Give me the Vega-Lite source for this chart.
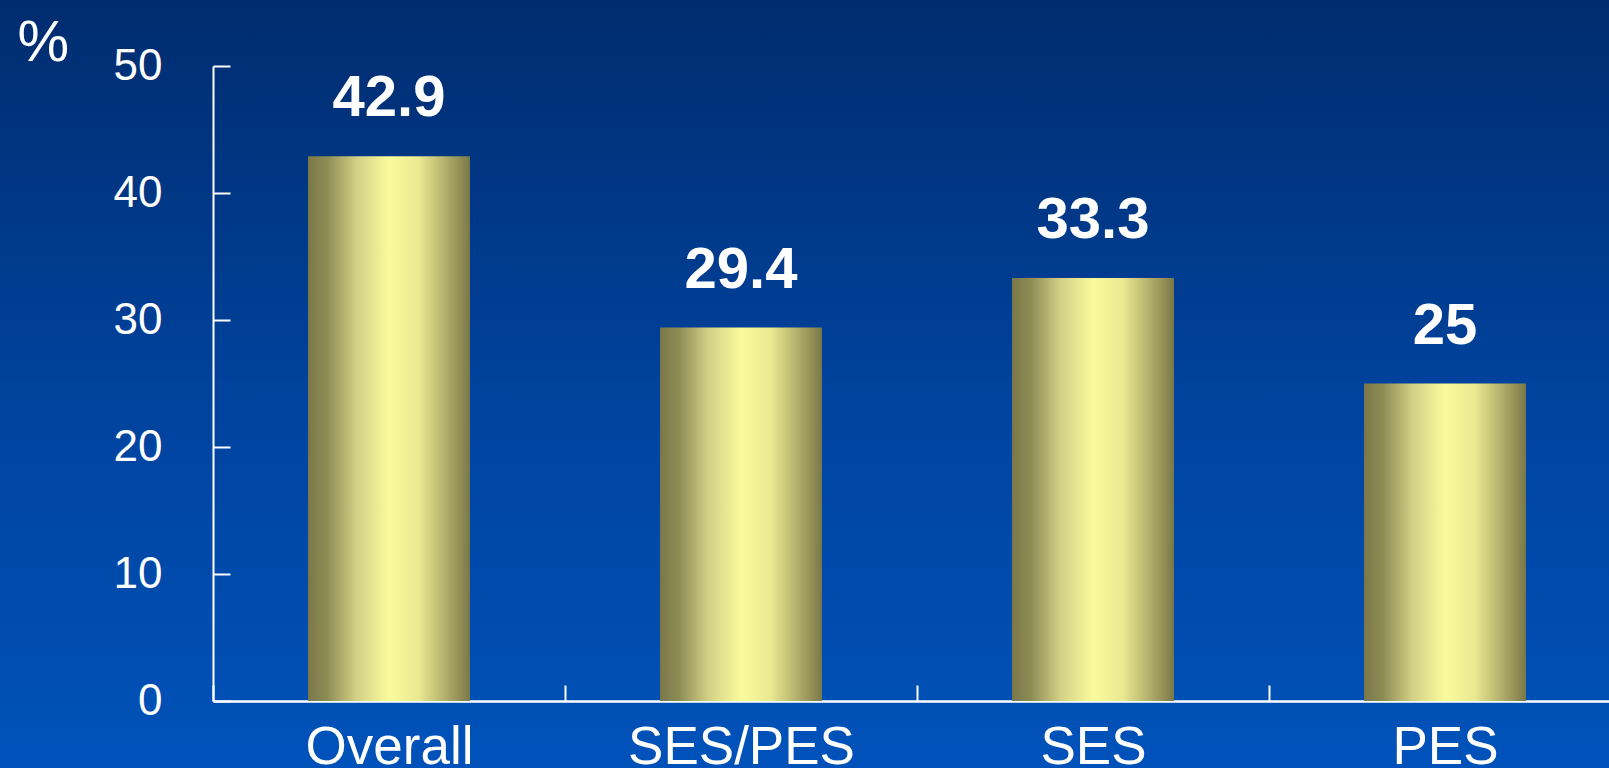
{
  "$schema": "https://vega.github.io/schema/vega-lite/v6.json",
  "width": 1609,
  "height": 768,
  "autosize": {"type": "none"},
  "padding": 0,
  "background": "#003a8a",
  "config": {"view": {"stroke": null, "fill": {"gradient": "linear", "x1": 0, "y1": 0, "x2": 0, "y2": 1, "stops": [{"offset": 0, "color": "#002c6e"}, {"offset": 0.5, "color": "#00429c"}, {"offset": 1, "color": "#0052ba"}]}}, "font": "Liberation Sans"},
  "data": {"values": [
    {"group": "Overall", "pct": 42.9},
    {"group": "SES/PES", "pct": 29.4},
    {"group": "SES", "pct": 33.3},
    {"group": "PES", "pct": 25}
  ]},
  "encoding": {
    "x": {"field": "group", "type": "nominal", "sort": null,
      "scale": {"paddingInner": 0.54, "paddingOuter": 0.27, "range": [213, 1621]},
      "axis": {"title": null, "labelAngle": 0, "labelColor": "white", "labelFontSize": 53, "labelFont": "Liberation Sans", "labelLimit": 0, "offset": -67,
        "domainColor": "white", "domainWidth": 2.5, "tickColor": "white", "tickWidth": 2, "tickSize": -16,
        "bandPosition": 0, "tickOffset": -95, "labelOffset": 95,
        "labelPadding": 36}},
    "y": {"field": "pct", "type": "quantitative", "scale": {"domain": [0, 50], "range": [701, 66]},
      "axis": {"values": [0, 10, 20, 30, 40, 50], "grid": false, "offset": -213, "title": "%", "titleAngle": 0, "titleAlign": "left", "titleBaseline": "alphabetic",
        "titleX": -196, "titleY": 60, "titleFontSize": 58, "titleFontWeight": "normal", "titleColor": "white", "titleFont": "Liberation Sans",
        "labelColor": "white", "labelFontSize": 44, "labelFont": "Liberation Sans", "labelPadding": 68,
        "domainColor": "white", "domainWidth": 2, "tickColor": "white", "tickWidth": 2, "tickSize": -17}}
  },
  "layer": [
    {"mark": {"type": "bar", "fill": {"gradient": "linear", "x1": 0, "y1": 0, "x2": 1, "y2": 0, "stops": [
      {"offset": 0, "color": "#7a7848"},
      {"offset": 0.12, "color": "#8f8d55"},
      {"offset": 0.3, "color": "#d2d085"},
      {"offset": 0.5, "color": "#fbfb9c"},
      {"offset": 0.68, "color": "#ecea93"},
      {"offset": 0.87, "color": "#a9a765"},
      {"offset": 1, "color": "#7a7848"}
    ]}}},
    {"mark": {"type": "text", "dy": -40, "baseline": "alphabetic", "fontSize": 58, "fontWeight": "bold", "color": "white", "font": "Liberation Sans"},
      "encoding": {"text": {"field": "pct", "type": "quantitative"}}}
  ]
}
